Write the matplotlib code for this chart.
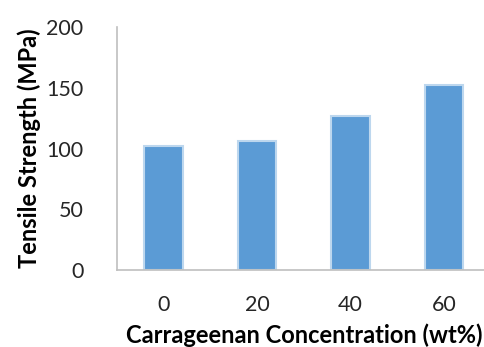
import matplotlib.pyplot as plt

# Datos
concentraciones = ['0', '20', '40', '60']
resistencia = [102, 106, 127, 152]
ticks_y = [0, 50, 100, 150, 200]

plt.rcParams['font.family'] = ['Lato', 'DejaVu Sans']

fig = plt.figure(figsize=(4.85, 3.47), dpi=100)
ax = fig.add_axes([0.241, 0.222, 0.771, 0.700])

x = range(len(concentraciones))
ax.bar(x, resistencia, width=0.41, color='#5B9BD5', edgecolor='#BDD7EE', linewidth=1.5)

ax.set_xlim(-0.5, 3.5)
ax.set_ylim(0, 200)
ax.set_xticks(list(x))
ax.set_xticklabels(concentraciones)
ax.set_yticks(ticks_y)

ax.tick_params(axis='both', length=0, labelsize=15.5, colors='#262626')
ax.tick_params(axis='x', pad=18)
ax.tick_params(axis='y', pad=24)

for lado in ['top', 'right']:
    ax.spines[lado].set_visible(False)
for lado in ['left', 'bottom']:
    ax.spines[lado].set_color('#BFBFBF')
    ax.spines[lado].set_linewidth(1.2)

ax.set_xlabel('Carrageenan Concentration (wt%)', fontsize=17, fontweight='bold', labelpad=6)
ax.set_ylabel('Tensile Strength (MPa)', fontsize=17, fontweight='bold', labelpad=4)

fig.savefig('out.png', dpi=100)
